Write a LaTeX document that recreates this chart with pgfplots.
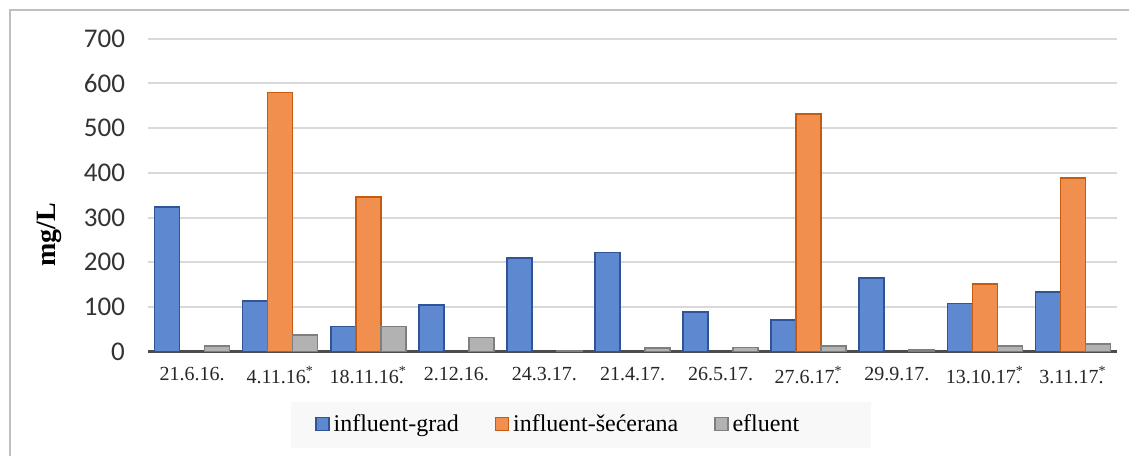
\documentclass[border=0pt]{standalone}
\usepackage{pgfplots}
\pgfplotsset{compat=1.18}
\usepackage{fontspec}
\setmainfont{Liberation Serif}
\newfontfamily\carlito{Carlito}
\definecolor{cblue}{HTML}{5E88D0}
\definecolor{eblue}{HTML}{2F5597}
\definecolor{corange}{HTML}{F08F4E}
\definecolor{eorange}{HTML}{C55A11}
\definecolor{cgray}{HTML}{B2B2B2}
\definecolor{egray}{HTML}{7F7F7F}
\definecolor{gridc}{HTML}{D9D9D9}
\definecolor{framec}{HTML}{BFBFBF}
\definecolor{legc}{HTML}{F8F8F8}
\begin{document}
\begin{tikzpicture}
\useasboundingbox (0,0) rectangle (564.5pt,228pt);
\draw[framec, line width=1pt] (5pt,0pt) -- (5pt,223pt) -- (564.5pt,223pt);
\begin{axis}[
  at={(74pt,52.15pt)}, anchor=south west,
  scale only axis, width=484.5pt, height=156.5pt,
  ybar=0pt, bar width=12.5pt,
  xmin=-0.5, xmax=10.5, ymin=0, ymax=700,
  xtick={0,...,10},
  xticklabels={21.6.16., 4.11.16\rlap{.}\textsuperscript{*}, 18.11.16\rlap{.}\textsuperscript{*}, 2.12.16., 24.3.17., 21.4.17., 26.5.17., 27.6.17\rlap{.}\textsuperscript{*}, 29.9.17., 13.10.17\rlap{.}\textsuperscript{*}, 3.11.17\rlap{.}\textsuperscript{*}},
  xticklabel style={font=\fontsize{10}{12}\selectfont, yshift=-4pt, text=black!85},
  ytick={0,100,...,700},
  yticklabel style={font=\carlito\fontsize{13.5}{15}\selectfont, xshift=-8pt, text=black!80},
  /pgf/number format/assume math mode=true,
  major tick length=0pt,
  ymajorgrids=true, xmajorgrids=false,
  major grid style={draw=gridc, line width=1pt},
  axis lines*=left,
  x axis line style={draw=black!70, line width=1.5pt, -},
  y axis line style={draw=none},
  every axis y label/.style={at={(axis description cs:-0.1017,0.374)}, rotate=90, anchor=center},
  ylabel={\textbf{mg/L}},
  ylabel style={font=\fontsize{14}{16}\selectfont},
  legend columns=3,
  legend style={at={(axis description cs:0.1476,-0.234)}, anchor=west,
    draw=none, fill=legc, inner xsep=12pt, inner ysep=4.5pt,
    font=\fontsize{12}{14}\selectfont,
    /tikz/every even column/.append style={column sep=16pt}},
  legend image code/.code={\draw[#1, line width=0.6pt] (0pt,-2.6pt) rectangle (6.5pt,3.9pt);},
]
\addplot[fill=cblue, draw=eblue, line width=0.8pt] coordinates {
 (0,324) (1,114) (2,56) (3,104) (4,209) (5,222) (6,89) (7,71) (8,165) (9,108) (10,133)};
\addplot[fill=corange, draw=eorange, line width=0.8pt] coordinates {
 (1,580) (2,346) (7,532) (9,152) (10,389)};
\addplot[fill=cgray, draw=egray, line width=0.8pt] coordinates {
 (0,13) (1,37) (2,56) (3,32) (4,3) (5,8) (6,9) (7,13) (8,4) (9,13) (10,17)};
\legend{influent-grad, influent-šećerana, efluent\hspace*{22pt}}
\end{axis}
\end{tikzpicture}
\end{document}
